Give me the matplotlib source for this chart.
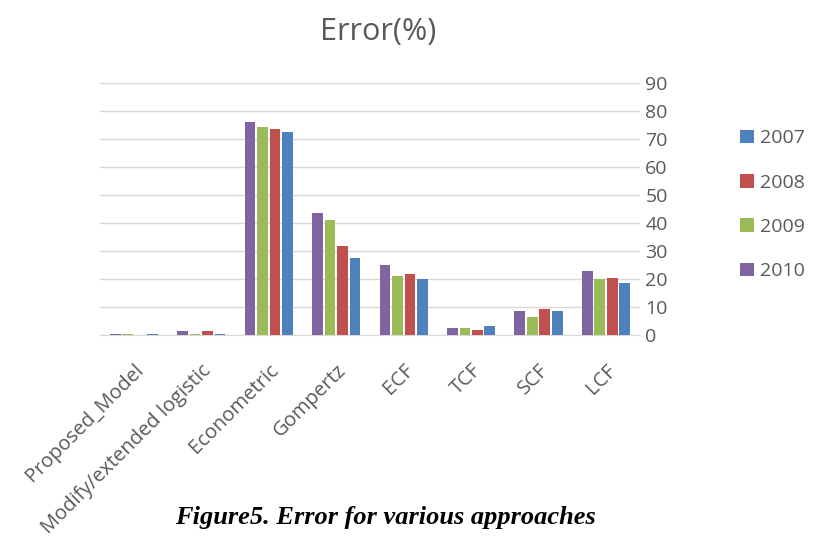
import numpy as np
import matplotlib.pyplot as plt

approaches = ['Proposed_Model', 'Modify/extended logistic', 'Econometric',
              'Gompertz', 'ECF', 'TCF', 'SCF', 'LCF']
err_2010 = [0.6, 1.4, 76.0, 43.5, 24.9, 2.7, 8.8, 23.0]
err_2009 = [0.6, 0.6, 74.2, 41.3, 21.1, 2.7, 6.4, 19.9]
err_2008 = [0.0, 1.4, 73.7, 31.7, 22.0, 1.9, 9.2, 20.6]
err_2007 = [0.6, 0.6, 72.4, 27.5, 20.1, 3.2, 8.8, 18.8]

series = [('2010', err_2010, '#8064A2'),
          ('2009', err_2009, '#9BBB59'),
          ('2008', err_2008, '#C0504D'),
          ('2007', err_2007, '#4F81BD')]

txt = '#595959'
plt.rcParams['font.family'] = ['Open Sans', 'DejaVu Sans']

fig = plt.figure(figsize=(8.14, 5.39), dpi=100)
ax = fig.add_axes([0.123, 0.378, 0.663, 0.468])

x = np.arange(len(approaches))
w = 0.16
step = 0.185
handles = {}
for i, (name, vals, col) in enumerate(series):
    b = ax.bar(x + (i - 1.5) * step, vals, w, color=col, zorder=3)
    handles[name] = b

ax.set_xlim(-0.5, len(approaches) - 0.5)
ax.set_ylim(0, 90)
ax.set_yticks(range(0, 91, 10))
ax.yaxis.tick_right()
ax.grid(axis='y', color='#d9d9d9', linewidth=1, zorder=0)
for s in ['top', 'left', 'right']:
    ax.spines[s].set_visible(False)
ax.spines['bottom'].set_color('#d9d9d9')
ax.tick_params(axis='y', length=0, labelsize=14, labelcolor=txt, pad=4)
ax.tick_params(axis='x', length=0, labelsize=14.5, labelcolor=txt, pad=18)
ax.set_xticks(x)
ax.set_xticklabels(approaches, rotation=45, ha='right', rotation_mode='anchor')

names = ['2007', '2008', '2009', '2010']
leg = fig.legend([handles[n] for n in names], names, loc='center left',
                 bbox_to_anchor=(0.9, 0.62), frameon=False, fontsize=14,
                 handlelength=0.7, handleheight=0.7, handletextpad=0.3,
                 labelspacing=1.35, borderaxespad=0)
for t in leg.get_texts():
    t.set_color(txt)

fig.text(0.465, 0.94, 'Error(%)', ha='center', va='center', fontsize=22, color=txt)
fig.text(0.473, 0.04, 'Figure5. Error for various approaches', ha='center',
         va='center', fontsize=19, fontweight='bold', fontstyle='italic',
         family='Liberation Serif')

fig.savefig('out.png', dpi=100, facecolor='white')
